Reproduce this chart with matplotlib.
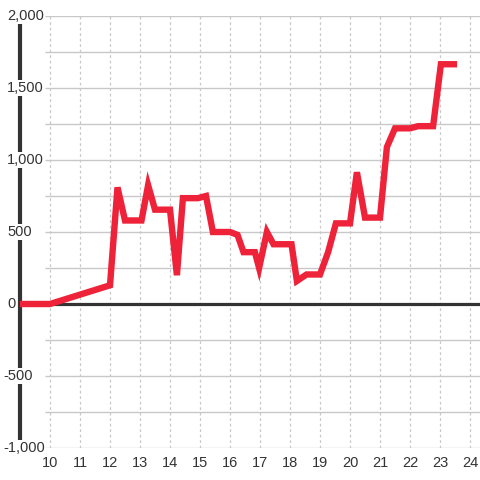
import matplotlib.pyplot as plt
import matplotlib.transforms as mtransforms

# wartosci
godziny = [9.0, 10.0, 12.0, 12.25, 12.5, 13.05, 13.27, 13.5, 14.0, 14.23, 14.43, 14.93, 15.2,
           15.43, 16.0, 16.25, 16.45, 16.83, 16.97, 17.23, 17.45, 18.05, 18.23, 18.55, 19.0,
           19.27, 19.53, 20.0, 20.23, 20.5, 21.0, 21.23, 21.5, 22.0, 22.27, 22.77, 23.03, 23.57]
wartosci = [0, 0, 130, 810, 580, 580, 825, 655, 655, 200, 735, 735, 750,
            500, 500, 480, 360, 360, 250, 500, 415, 415, 160, 205, 205,
            360, 560, 560, 915, 600, 600, 1090, 1220, 1220, 1235, 1235, 1665, 1665]

x_ticki = list(range(10, 25))
y_siatka = list(range(-1000, 2001, 250))
y_etykiety = list(range(-1000, 2001, 500))

plt.rcParams['font.family'] = ['Liberation Sans', 'DejaVu Sans']

fig = plt.figure(figsize=(4.8, 4.8), dpi=100)
ax = fig.add_axes([20 / 480, 32 / 480, 460 / 480, 432 / 480])
ax.set_xlim(9.0, 24.333)
ax.set_ylim(-1000, 2000)

for s in ['top', 'right', 'bottom']:
    ax.spines[s].set_visible(False)
ax.spines['left'].set_color('#333333')
ax.spines['left'].set_linewidth(3)
ax.spines['left'].set_zorder(3)

# siatka
ax.hlines(y_siatka, 9.833, 24.333, colors='#c8c8c8', linewidth=1, zorder=1)
for x in x_ticki:
    ax.axvline(x, color='#c8c8c8', linewidth=0.9, linestyle=(0, (2.2, 2.2)), zorder=1)
ax.axhline(0, color='#333333', linewidth=2.3, zorder=2)

ax.plot(godziny, wartosci, color='#ee2238', linewidth=4.6, solid_joinstyle='miter',
        solid_capstyle='butt', zorder=4)

ax.set_xticks(x_ticki)
ax.set_xticklabels([str(x) for x in x_ticki])
ax.tick_params(axis='x', length=0, pad=6, labelsize=10.5, labelcolor='#333333')
ax.set_yticks([])

tr = mtransforms.blended_transform_factory(ax.transAxes, ax.transData)
for v in y_etykiety:
    xpos = -0.0283 if v >= 0 else -0.037
    ax.text(xpos, v, f"{v:,}", transform=tr, ha='left', va='center', fontsize=10.5,
            color='#333333', zorder=5, clip_on=False,
            bbox=dict(facecolor='white', edgecolor='none', pad=1))

plt.savefig('out.png', dpi=100)
